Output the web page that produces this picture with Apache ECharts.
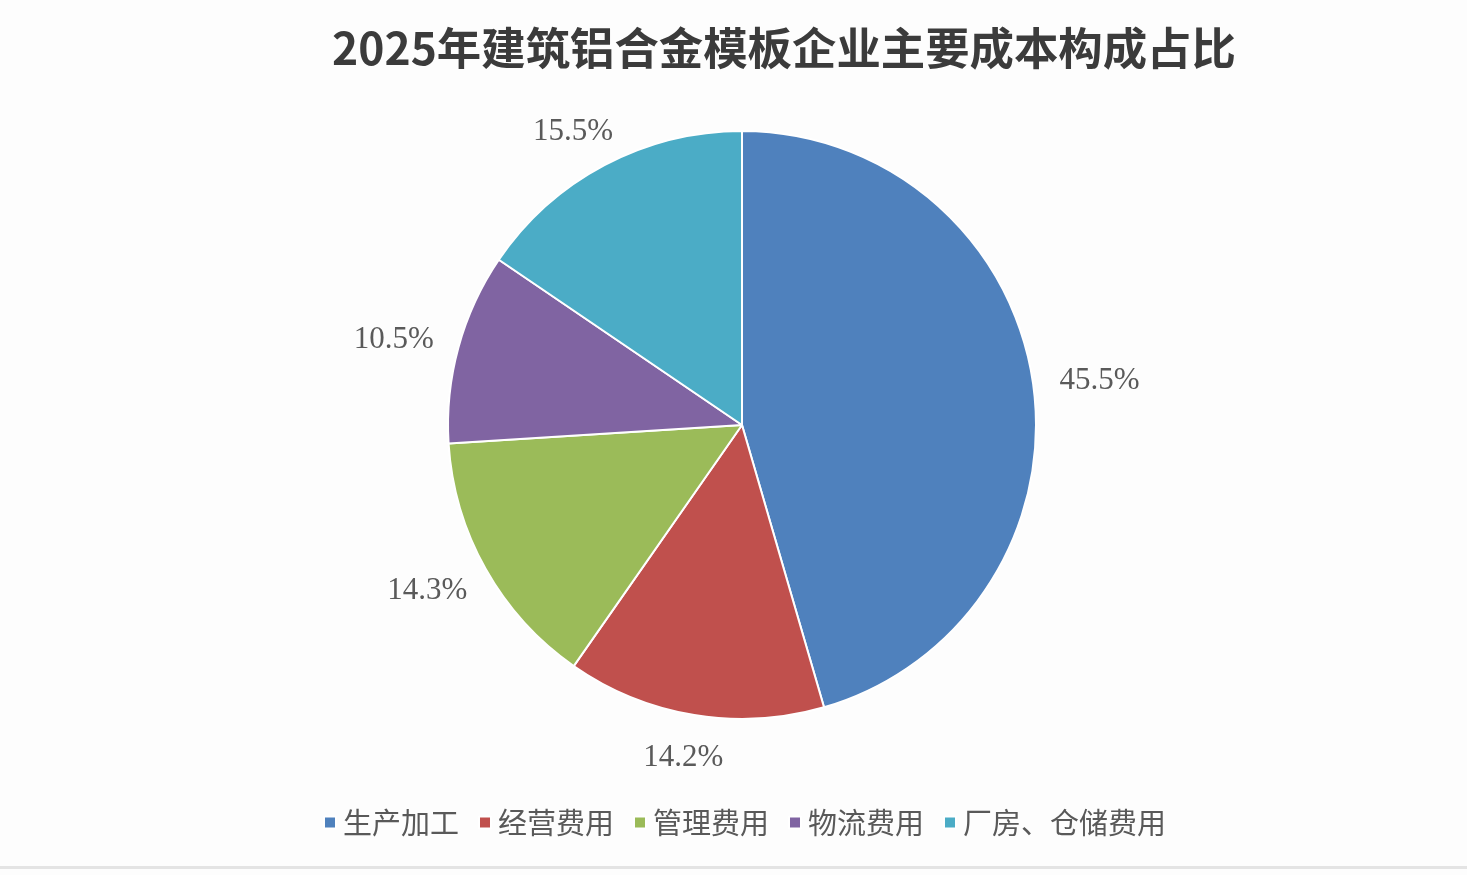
<!DOCTYPE html>
<html>
<head>
<meta charset="utf-8">
<script src="https://cdn.jsdelivr.net/npm/echarts@6/dist/echarts.min.js"></script>
<style>
html,body{margin:0;padding:0;background:#fdfdfd;}
#c{width:1467px;height:875px;}
</style>
</head>
<body>
<div id="c"></div>
<script>
const titleText = '2025年建筑铝合金模板企业主要成本构成占比';
const categories = ['生产加工', '经营费用', '管理费用', '物流费用', '厂房、仓储费用'];
const values = [45.5, 14.2, 14.3, 10.5, 15.5];
const colors = ['#4F81BD', '#C0504D', '#9BBB59', '#8064A2', '#4BACC6'];

const CX = 742, CY = 425, R = 294, GAP = 27, H_HALF = 15;
const total = values.reduce((a, b) => a + b, 0);
const midAngles = [];
let acc = 0;
values.forEach(v => {
  const a0 = acc / total * 2 * Math.PI;
  acc += v;
  const a1 = acc / total * 2 * Math.PI;
  midAngles.push((a0 + a1) / 2); // clockwise from top
});

const chart = echarts.init(document.getElementById('c'));
chart.setOption({
  backgroundColor: '#fdfdfd',
  animation: false,
  title: {
    text: titleText,
    left: 779, top: 21,
    textAlign: 'center',
    textStyle: {
      fontFamily: 'Noto Sans CJK SC',
      fontWeight: 'bold',
      fontSize: 44.4,
      color: '#3b3b3b'
    }
  },
  legend: {
    data: categories,
    bottom: 38,
    left: 323,
    padding: 0,
    icon: 'rect',
    itemWidth: 12,
    itemHeight: 12,
    itemGap: 19,
    textStyle: {
      fontFamily: 'Noto Sans CJK SC',
      fontSize: 29,
      color: '#595959',
      padding: [0, 0, 0, 2]
    }
  },
  series: [{
    type: 'pie',
    center: [CX, CY],
    radius: R,
    startAngle: 90,
    clockwise: true,
    data: categories.map((n, i) => ({ name: n, value: values[i], itemStyle: { color: colors[i] } })),
    itemStyle: { borderColor: '#ffffff', borderWidth: 2 },
    label: {
      show: true,
      position: 'outside',
      formatter: p => p.value.toFixed(1) + '%',
      fontFamily: 'Liberation Serif',
      fontSize: 31,
      color: '#5a5a5a'
    },
    labelLine: { show: false },
    labelLayout: function (params) {
      const i = params.dataIndex;
      const a = midAngles[i];
      const dx = Math.sin(a), dy = -Math.cos(a);
      const w = params.labelRect.width;
      const d = R + GAP;
      return {
        x: CX + dx * d + dx * w / 2,
        y: CY + dy * d + dy * H_HALF + 1 + (dy < 0 ? 2.5 : 0),
        align: 'center',
        verticalAlign: 'middle'
      };
    },
    emphasis: { disabled: true }
  }],
  graphic: [{
    type: 'rect',
    shape: { x: 0, y: 866, width: 1467, height: 3 },
    style: { fill: '#e4e4e4' },
    silent: true
  }]
});
</script>
</body>
</html>
